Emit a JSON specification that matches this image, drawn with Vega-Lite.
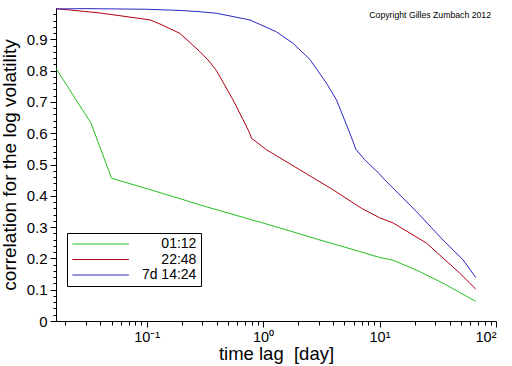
{
  "$schema": "https://vega.github.io/schema/vega-lite/v6.json",
  "width": 440,
  "height": 313,
  "autosize": "none",
  "padding": {"left": 56, "top": 8, "right": 16, "bottom": 45},
  "background": "white",
  "config": {"view": {"stroke": null}, "font": "Liberation Sans"},
  "title": {"text": "Copyright Gilles Zumbach 2012", "anchor": "end", "orient": "top", "frame": "group", "offset": -21, "fontSize": 8.7, "fontWeight": "normal", "font": "Liberation Sans", "baseline": "alphabetic", "dx": -5, "color": "black"},
  "data": {"values": [
    {"t": 0.016667, "c": 0.807, "s": "01:12"},
    {"t": 0.0333, "c": 0.632, "s": "01:12"},
    {"t": 0.05, "c": 0.456, "s": "01:12"},
    {"t": 0.1, "c": 0.423, "s": "01:12"},
    {"t": 0.197, "c": 0.39, "s": "01:12"},
    {"t": 0.286, "c": 0.371, "s": "01:12"},
    {"t": 0.5, "c": 0.345, "s": "01:12"},
    {"t": 1.0, "c": 0.313, "s": "01:12"},
    {"t": 1.69, "c": 0.288, "s": "01:12"},
    {"t": 3.0, "c": 0.26, "s": "01:12"},
    {"t": 6.76, "c": 0.222, "s": "01:12"},
    {"t": 10, "c": 0.203, "s": "01:12"},
    {"t": 13.1, "c": 0.194, "s": "01:12"},
    {"t": 22.1, "c": 0.158, "s": "01:12"},
    {"t": 35, "c": 0.121, "s": "01:12"},
    {"t": 50, "c": 0.089, "s": "01:12"},
    {"t": 67, "c": 0.0626, "s": "01:12"},
    {"t": 0.016667, "c": 0.998, "s": "22:48"},
    {"t": 0.04, "c": 0.984, "s": "22:48"},
    {"t": 0.107, "c": 0.962, "s": "22:48"},
    {"t": 0.13, "c": 0.949, "s": "22:48"},
    {"t": 0.193, "c": 0.919, "s": "22:48"},
    {"t": 0.286, "c": 0.861, "s": "22:48"},
    {"t": 0.337, "c": 0.834, "s": "22:48"},
    {"t": 0.398, "c": 0.8, "s": "22:48"},
    {"t": 0.553, "c": 0.706, "s": "22:48"},
    {"t": 0.673, "c": 0.643, "s": "22:48"},
    {"t": 0.769, "c": 0.6, "s": "22:48"},
    {"t": 0.795, "c": 0.584, "s": "22:48"},
    {"t": 1.07, "c": 0.547, "s": "22:48"},
    {"t": 2.07, "c": 0.483, "s": "22:48"},
    {"t": 4.0, "c": 0.419, "s": "22:48"},
    {"t": 7.0, "c": 0.36, "s": "22:48"},
    {"t": 10, "c": 0.33, "s": "22:48"},
    {"t": 13.1, "c": 0.313, "s": "22:48"},
    {"t": 25.3, "c": 0.249, "s": "22:48"},
    {"t": 48.8, "c": 0.153, "s": "22:48"},
    {"t": 59.5, "c": 0.121, "s": "22:48"},
    {"t": 67, "c": 0.102, "s": "22:48"},
    {"t": 0.016667, "c": 0.997, "s": "7d 14:24"},
    {"t": 0.03, "c": 0.998, "s": "7d 14:24"},
    {"t": 0.1, "c": 0.996, "s": "7d 14:24"},
    {"t": 0.2, "c": 0.992, "s": "7d 14:24"},
    {"t": 0.29, "c": 0.988, "s": "7d 14:24"},
    {"t": 0.4, "c": 0.983, "s": "7d 14:24"},
    {"t": 0.77, "c": 0.962, "s": "7d 14:24"},
    {"t": 1.3, "c": 0.924, "s": "7d 14:24"},
    {"t": 1.81, "c": 0.887, "s": "7d 14:24"},
    {"t": 2.52, "c": 0.836, "s": "7d 14:24"},
    {"t": 3.5, "c": 0.76, "s": "7d 14:24"},
    {"t": 4.27, "c": 0.706, "s": "7d 14:24"},
    {"t": 5.2, "c": 0.627, "s": "7d 14:24"},
    {"t": 5.9, "c": 0.575, "s": "7d 14:24"},
    {"t": 6.25, "c": 0.549, "s": "7d 14:24"},
    {"t": 7.46, "c": 0.515, "s": "7d 14:24"},
    {"t": 10, "c": 0.47, "s": "7d 14:24"},
    {"t": 11.1, "c": 0.451, "s": "7d 14:24"},
    {"t": 20.7, "c": 0.35, "s": "7d 14:24"},
    {"t": 35, "c": 0.259, "s": "7d 14:24"},
    {"t": 52, "c": 0.196, "s": "7d 14:24"},
    {"t": 67, "c": 0.139, "s": "7d 14:24"}
  ]},
  "layer": [
    {
      "mark": {"type": "point", "opacity": 0},
      "encoding": {
        "x": {"field": "t", "type": "quantitative", "scale": {"type": "log", "domain": [0.016667, 100], "nice": false},
          "axis": {"orient": "bottom", "values": [0.02,0.03,0.04,0.05,0.06,0.07,0.08,0.09,0.2,0.3,0.4,0.5,0.6,0.7,0.8,0.9,2,3,4,5,6,7,8,9,20,30,40,50,60,70,80,90], "labels": false, "domain": false, "grid": false, "tickSize": 4, "tickColor": "black", "title": null}},
        "y": {"field": "c", "type": "quantitative", "scale": {"domain": [0, 1], "nice": false},
          "axis": {"orient": "left", "values": [0.02,0.04,0.06,0.08,0.12,0.14,0.16,0.18,0.22,0.24,0.26,0.28,0.32,0.34,0.36,0.38,0.42,0.44,0.46,0.48,0.52,0.54,0.56,0.58,0.62,0.64,0.66,0.68,0.72,0.74,0.76,0.78,0.82,0.84,0.86,0.88,0.92,0.94,0.96,0.98], "labels": false, "domain": false, "grid": false, "tickSize": 3, "tickColor": "black", "title": null}}
      }
    },
    {
      "mark": {"type": "line", "strokeWidth": 1},
      "encoding": {
        "x": {"field": "t", "type": "quantitative", "scale": {"type": "log", "domain": [0.016667, 100], "nice": false},
          "axis": {"orient": "bottom", "values": [0.1, 1, 10, 100], "labelExpr": "datum.value < 0.5 ? '10⁻¹' : datum.value < 5 ? '10⁰' : datum.value < 50 ? '10¹' : '10²'", "grid": false, "tickSize": 6, "tickColor": "black", "domainColor": "black", "labelColor": "black", "labelFontSize": 14.5, "labelFont": "Liberation Sans", "labelPadding": 3, "title": "time lag\u00a0 [day]", "titleFontSize": 18.5, "titleFontWeight": "normal", "titleFont": "Liberation Sans", "titleColor": "black", "titlePadding": 1}},
        "y": {"field": "c", "type": "quantitative", "scale": {"domain": [0, 1], "nice": false},
          "axis": {"orient": "left", "values": [0,0.1,0.2,0.3,0.4,0.5,0.6,0.7,0.8,0.9], "format": ".1~f", "grid": false, "tickSize": 6, "tickColor": "black", "domainColor": "black", "labelColor": "black", "labelFontSize": 15, "labelFont": "Liberation Sans", "labelPadding": 3, "title": "correlation for the log volatility", "titleFontSize": 19, "titleFontWeight": "normal", "titleFont": "Liberation Sans", "titleColor": "black", "titlePadding": 7}},
        "color": {"field": "s", "type": "nominal",
          "scale": {"domain": ["01:12", "22:48", "7d 14:24"], "range": ["#22c022", "#b00010", "#2828c0"]},
          "legend": {"orient": "none", "legendX": 11, "legendY": 225, "title": null, "strokeColor": "black", "padding": 4, "rowPadding": 1.5, "symbolType": "M-1,0L9,0", "symbolSize": 128, "symbolStrokeWidth": 1, "labelFontSize": 14, "labelFont": "Liberation Sans", "labelColor": "black", "labelAlign": "right", "labelOffset": 111.4, "fillColor": "white"}}
      }
    }
  ],
  "resolve": {"scale": {"x": "independent", "y": "independent"}, "axis": {"x": "independent", "y": "independent"}}
}
